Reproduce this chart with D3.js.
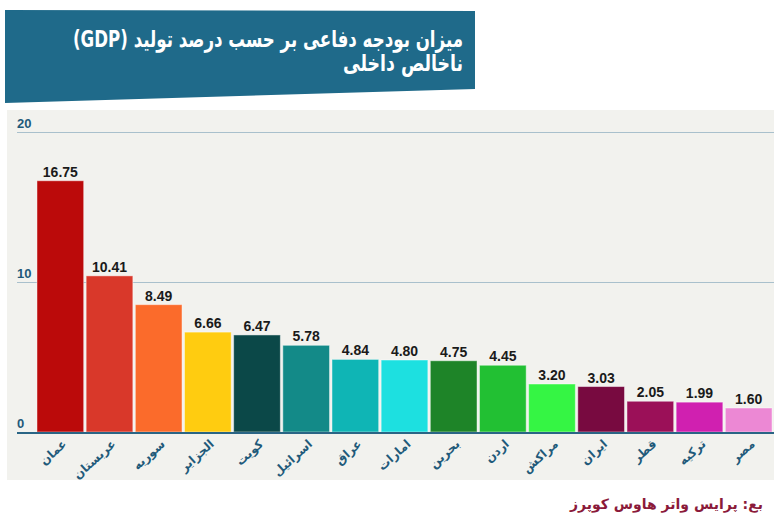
<!DOCTYPE html>
<html>
<head>
<meta charset="utf-8">
<script src="https://cdn.jsdelivr.net/npm/d3@7"></script>
<style>
  body { margin: 0; background: #fff; }
  svg { display: block; }
</style>
</head>
<body>
<div id="chart"></div>
<script>
// chart data
var countries = ["عمان", "عربستان", "سوریه", "الجزایر", "کویت", "اسرائیل", "عراق", "امارات",
                 "بحرین", "اردن", "مراکش", "ایران", "قطر", "ترکیه", "مصر"];
var values = [16.75, 10.41, 8.49, 6.66, 6.47, 5.78, 4.84, 4.80, 4.75, 4.45, 3.20, 3.03, 2.05, 1.99, 1.60];
var barColors = ["#bb0a0a", "#d9382a", "#fb6b2b", "#ffcc10", "#0b4848", "#138a88", "#0fb5b5", "#1de0e0",
                 "#1e8428", "#22c033", "#35f544", "#780a40", "#9b1058", "#d020b0", "#ec88d4"];
var yTicks = [0, 10, 20];
var titleLines = ["میزان بودجه دفاعی بر حسب درصد تولید (GDP)", "ناخالص داخلی"];
var sourceText = "بع:  پرایس واتر هاوس کوپرز";

var W = 774, H = 516;
var svg = d3.select("#chart").append("svg")
    .attr("width", W)
    .attr("height", H);

// header banner (slightly slanted bottom edge)
svg.append("path")
    .attr("d", "M5,10 L475,11 L475,89 L5,103 Z")
    .attr("fill", "#1f6a8a");

svg.selectAll("text.title")
  .data(titleLines)
  .join("text")
    .attr("class", "title")
    .attr("x", 463)
    .attr("y", function(d, i) { return 47 + i * 24; })
    .attr("direction", "rtl")
    .attr("text-anchor", "start")
    .attr("textLength", function(d, i) { return i == 0 ? 390 : 120; })
    .attr("lengthAdjust", "spacingAndGlyphs")
    .style("font-family", "'DejaVu Sans', sans-serif")
    .style("font-weight", "bold")
    .style("font-size", "23px")
    .style("fill", "#fff")
    .text(function(d) { return d; });

// chart panel
svg.append("rect")
    .attr("x", 7).attr("y", 110)
    .attr("width", W - 7).attr("height", 370)
    .attr("fill", "#f2f2ee");

var x = d3.scaleBand()
    .domain(countries)
    .range([36, 773])
    .paddingInner(0.05)
    .paddingOuter(0.02);

var y = d3.scaleLinear()
    .domain([0, 20])
    .range([432, 132]);

// gridlines + tick labels
var grid = svg.append("g");
grid.selectAll("line")
  .data(yTicks.filter(function(d) { return d > 0; }))
  .join("line")
    .attr("x1", 17).attr("x2", W)
    .attr("y1", function(d) { return y(d) + 0.5; })
    .attr("y2", function(d) { return y(d) + 0.5; })
    .attr("stroke", "#a9c0cc")
    .attr("stroke-width", 1);

grid.selectAll("text")
  .data(yTicks)
  .join("text")
    .attr("x", 17)
    .attr("y", function(d) { return y(d) - 4; })
    .style("font-family", "'Liberation Sans', Arial, sans-serif")
    .style("font-weight", "bold")
    .style("font-size", "13px")
    .style("fill", "#1f5a7a")
    .text(function(d) { return d; });

// bars
svg.selectAll("rect.bar")
  .data(values)
  .join("rect")
    .attr("class", "bar")
    .attr("x", function(d, i) { return x(countries[i]); })
    .attr("y", function(d) { return y(d); })
    .attr("width", x.bandwidth())
    .attr("height", function(d) { return y(0) - y(d); })
    .attr("fill", function(d, i) { return barColors[i]; })
    .attr("stroke", "rgba(255,255,255,0.45)")
    .attr("stroke-width", 1);

// value labels
svg.selectAll("text.val")
  .data(values)
  .join("text")
    .attr("class", "val")
    .attr("x", function(d, i) { return x(countries[i]) + x.bandwidth() / 2; })
    .attr("y", function(d) { return y(d) - 4; })
    .attr("text-anchor", "middle")
    .style("font-family", "'Liberation Sans', Arial, sans-serif")
    .style("font-weight", "bold")
    .style("font-size", "14px")
    .style("fill", "#1a1a1a")
    .text(function(d) { return d.toFixed(2); });

// x axis
var xAxis = svg.append("g")
    .attr("transform", "translate(0," + y(0) + ")")
    .call(d3.axisBottom(x).tickSize(0).tickPadding(0));
xAxis.select(".domain").remove();
xAxis.append("line")
    .attr("x1", 17).attr("x2", W)
    .attr("y1", 1).attr("y2", 1)
    .attr("stroke", "#2a6585")
    .attr("stroke-width", 2);
xAxis.selectAll(".tick text")
    .attr("direction", "rtl")
    .attr("text-anchor", "start")
    .attr("dy", 0)
    .attr("transform", "translate(7,13) rotate(-42)")
    .style("font-family", "'DejaVu Sans', sans-serif")
    .style("font-weight", "bold")
    .style("font-size", "12px")
    .style("fill", "#1f5a7a");

// source
svg.append("text")
    .attr("x", 763)
    .attr("y", 509)
    .attr("direction", "rtl")
    .attr("text-anchor", "start")
    .style("font-family", "'DejaVu Sans', sans-serif")
    .style("font-weight", "bold")
    .style("font-size", "14px")
    .style("fill", "#8b1a3a")
    .text(sourceText);
</script>
</body>
</html>
